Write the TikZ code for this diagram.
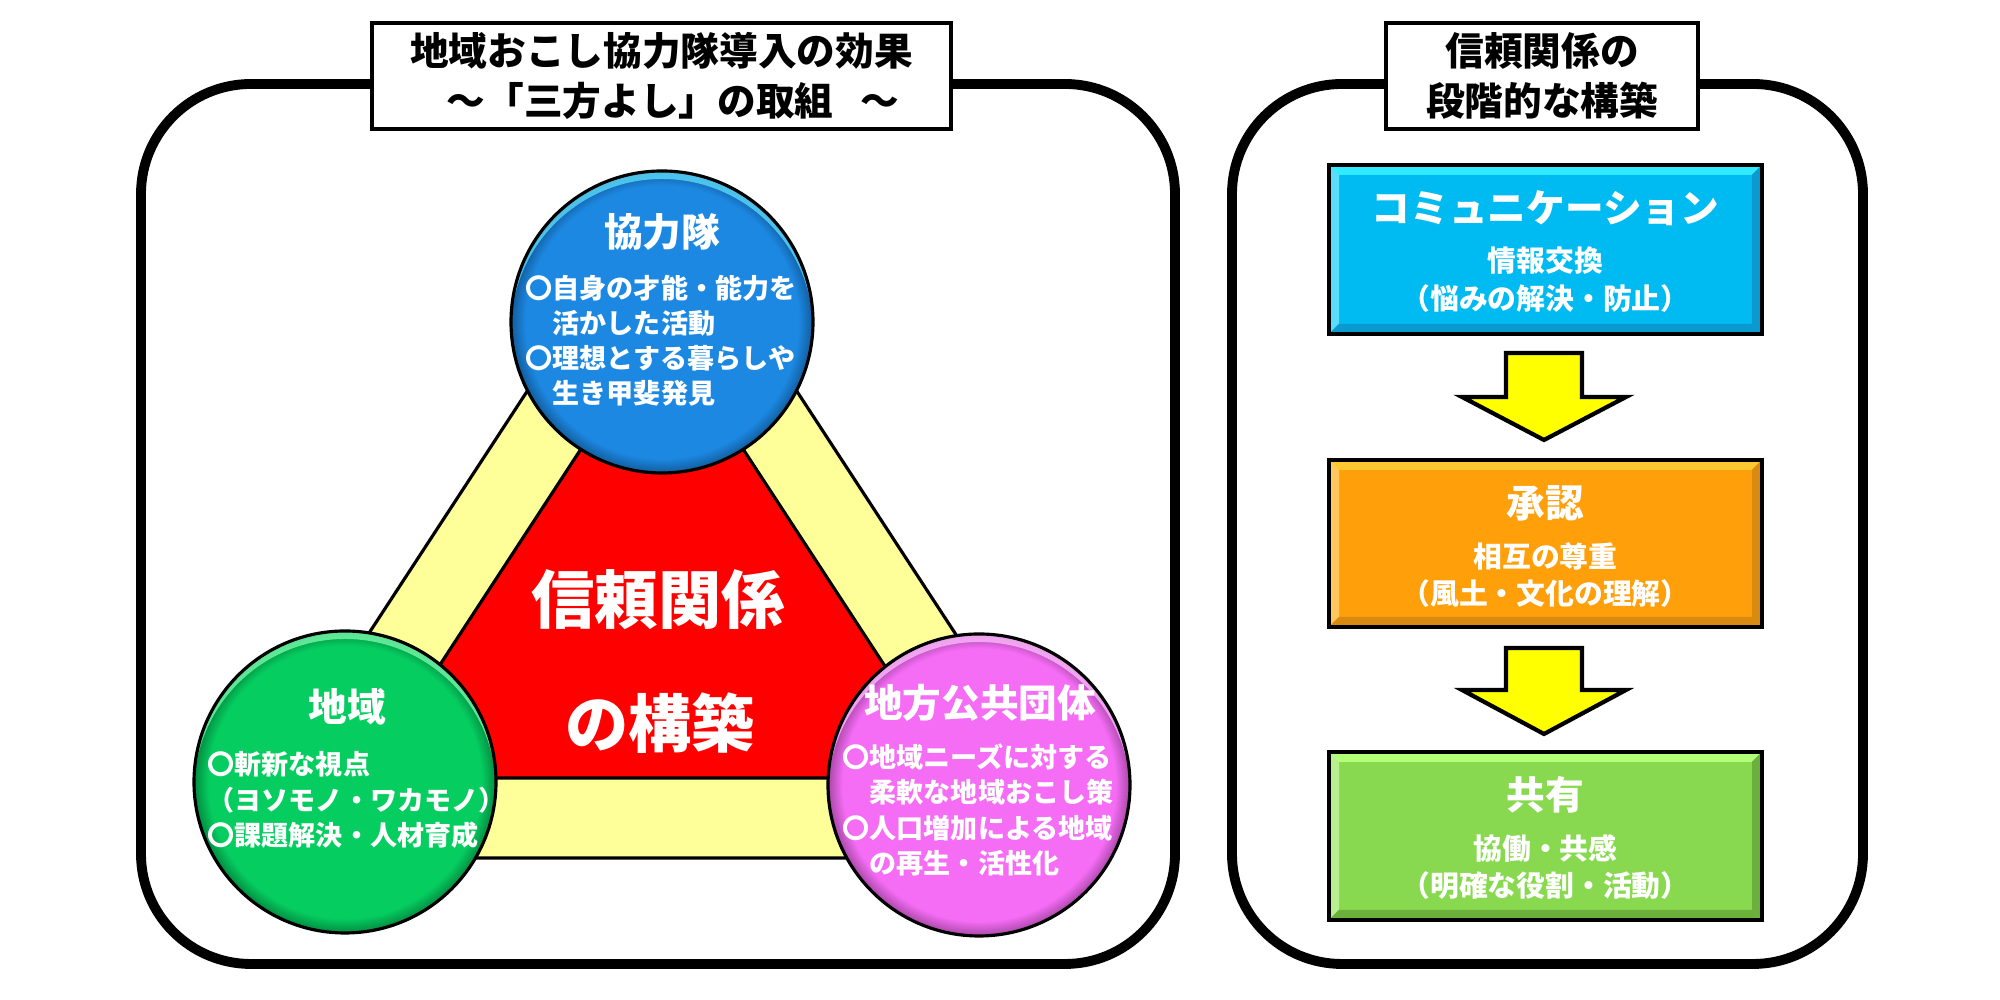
\documentclass[tikz,border=0pt]{standalone}
\usepackage{fontspec}
\setmainfont{Noto Sans CJK JP}
\definecolor{cblue}{HTML}{1C88E2}
\definecolor{cbluedk}{HTML}{125C9C}
\definecolor{cbluehi}{HTML}{5FE0FF}
\definecolor{cgreen}{HTML}{05CD60}
\definecolor{cgreendk}{HTML}{038A40}
\definecolor{cgreenhi}{HTML}{7DFFB0}
\definecolor{cpink}{HTML}{F56CF5}
\definecolor{cpinkdk}{HTML}{A848A8}
\definecolor{cpinkhi}{HTML}{FFC0FF}
\definecolor{cred}{HTML}{FF0000}
\definecolor{cyel}{HTML}{FFFF99}
\definecolor{carrow}{HTML}{FFFF00}
\definecolor{rblue}{HTML}{00BAF2}
\definecolor{rbluehi}{HTML}{30EAFF}
\definecolor{rbluelo}{HTML}{0A9AD0}
\definecolor{rorange}{HTML}{FF9F0A}
\definecolor{rorangehi}{HTML}{FFC830}
\definecolor{rorangelo}{HTML}{D98A10}
\definecolor{rgreen}{HTML}{88D94F}
\definecolor{rgreenhi}{HTML}{B2FF78}
\definecolor{rgreenlo}{HTML}{6CB03C}
\pgfdeclareradialshading{ballblue}{\pgfpoint{0bp}{0bp}}{color(0bp)=(cblue); color(22.6bp)=(cblue); color(25bp)=(cbluedk); color(50bp)=(cbluedk)}
\pgfdeclareradialshading{ballgreen}{\pgfpoint{0bp}{0bp}}{color(0bp)=(cgreen); color(22.6bp)=(cgreen); color(25bp)=(cgreendk); color(50bp)=(cgreendk)}
\pgfdeclareradialshading{ballpink}{\pgfpoint{0bp}{0bp}}{color(0bp)=(cpink); color(22.6bp)=(cpink); color(25bp)=(cpinkdk); color(50bp)=(cpinkdk)}
\newcommand\bevelbox[3]{%
  \fill[#2] (#1.north west) -- (#1.north east) -- ([shift={(-0.1,-0.1)}]#1.north east) -- ([shift={(0.1,-0.1)}]#1.north west) -- cycle;
  \fill[#2!50!white, opacity=0.6] (#1.north west) -- ([shift={(0.1,-0.1)}]#1.north west) -- ([shift={(0.1,0.1)}]#1.south west) -- (#1.south west) -- cycle;
  \fill[#3] (#1.south west) -- (#1.south east) -- ([shift={(-0.1,0.1)}]#1.south east) -- ([shift={(0.1,0.1)}]#1.south west) -- cycle;
  \fill[#3] (#1.north east) -- (#1.south east) -- ([shift={(-0.1,0.1)}]#1.south east) -- ([shift={(-0.1,-0.1)}]#1.north east) -- cycle;
  \draw[line width=1.1pt] (#1.north west) rectangle (#1.south east);
}
\newcommand\gloss[3]{%
  \begin{scope}
    \clip (#1.center) circle (#2);
    \fill[#3, opacity=0.75, even odd rule] (#1.center) circle (#2) ([yshift=-0.08cm]#1.center) circle (#2);
  \end{scope}
  \draw[line width=0.9pt] (#1.center) circle (#2);
}
\begin{document}
\begin{tikzpicture}[x=1cm,y=1cm,
  frame/.style={draw=black, line width=2.8pt, rounded corners=1.1cm},
  titlebox/.style={draw=black, line width=1.1pt, fill=white, minimum height=1.06cm, align=center, inner sep=0pt, font=\bfseries\fontsize{11}{14}\selectfont},
  circ/.style={circle, inner sep=0pt, outer sep=0pt, minimum size=3.02cm},
  ctitle/.style={text=white, inner sep=0pt, font=\bfseries\fontsize{11}{13}\selectfont},
  cbody/.style={text=white, align=left, anchor=west, inner sep=0pt, font=\bfseries\fontsize{7.7}{10}\selectfont},
  bigtext/.style={text=white, inner sep=0pt, font=\bfseries\fontsize{18}{22}\selectfont},
  rbox/.style={minimum width=4.33cm, inner sep=0pt, outer sep=0pt},
  rtitle/.style={text=white, inner sep=0pt, font=\bfseries\fontsize{11}{13}\selectfont},
  rbody/.style={text=white, inner sep=0pt, align=center, font=\bfseries\fontsize{8.2}{10.8}\selectfont},
  blockarrow/.style={fill=carrow, draw=black, line width=1.2pt, line join=miter}
]
\useasboundingbox (0,0) rectangle (20,10);
\fill[white] (0,0) rectangle (20,10);

% frames
\draw[frame] (1.41,0.36) rectangle (11.75,9.16);
\draw[frame] (12.32,0.36) rectangle (18.63,9.16);
\node[titlebox, minimum width=5.79cm] (t1) at (6.615,9.24) {地域おこし協力隊導入の効果\\\hspace*{0.6em}～「三方よし」の取組\kern0.7em～};
\node[titlebox, minimum width=3.12cm] (t2) at (15.42,9.24) {信頼関係の\\段階的な構築};

% triangles
\filldraw[fill=cyel, draw=black, line width=0.9pt] (6.62,8.15) -- (2.22,1.42) -- (11.02,1.42) -- cycle;
\filldraw[fill=cred, draw=black, line width=0.9pt] (6.62,6.75) -- (3.66,2.22) -- (9.58,2.22) -- cycle;
\node[bigtext] (c1) at (6.58,4.00) {信頼関係};
\node[bigtext] (c2) at (6.60,2.77) {の構築};

% circles
\node[circ, shading=ballblue] (kyo) at (6.62,6.78) {};
\gloss{kyo}{1.51}{cbluehi}
\node[circ, shading=ballgreen] (chi) at (3.45,2.18) {};
\gloss{chi}{1.51}{cgreenhi}
\node[circ, shading=ballpink] (gov) at (9.79,2.15) {};
\gloss{gov}{1.51}{cpinkhi}

\node[ctitle] (kyot) at (6.62,7.68) {協力隊};
\node[cbody] (kyob) at (5.25,6.595) {〇自身の才能・能力を\\\hspace*{1em}活かした活動\\〇理想とする暮らしや\\\hspace*{1em}生き甲斐発見};
\node[ctitle] (chit) at (3.47,2.93) {地域};
\node[cbody] (chib) at (2.07,2.00) {〇斬新な視点\\（ヨソモノ・ワカモノ）\\〇課題解決・人材育成};
\node[ctitle] (govt) at (9.80,2.97) {地方公共団体};
\node[cbody] (govb) at (8.42,1.90) {〇地域ニーズに対する\\\hspace*{1em}柔軟な地域おこし策\\〇人口増加による地域\\\hspace*{1em}の再生・活性化};

% right side boxes
\node[rbox, fill=rblue, minimum height=1.69cm] (r1) at (15.455,7.505) {};
\bevelbox{r1}{rbluehi}{rbluelo}
\node[rbox, fill=rorange, minimum height=1.67cm] (r2) at (15.455,4.565) {};
\bevelbox{r2}{rorangehi}{rorangelo}
\node[rbox, fill=rgreen, minimum height=1.68cm] (r3) at (15.455,1.64) {};
\bevelbox{r3}{rgreenhi}{rgreenlo}

\node[rtitle] (r1t) at ([yshift=-0.43cm]r1.north) {コミュニケーション};
\node[rbody] (r1a) at ([yshift=-0.96cm]r1.north) {情報交換};
\node[rbody] (r1b) at ([yshift=-1.34cm]r1.north) {（悩みの解決・防止）};
\node[rtitle] (r2t) at ([yshift=-0.43cm]r2.north) {承認};
\node[rbody] (r2a) at ([yshift=-0.96cm]r2.north) {相互の尊重};
\node[rbody] (r2b) at ([yshift=-1.34cm]r2.north) {（風土・文化の理解）};
\node[rtitle] (r3t) at ([yshift=-0.43cm]r3.north) {共有};
\node[rbody] (r3a) at ([yshift=-0.96cm]r3.north) {協働・共感};
\node[rbody] (r3b) at ([yshift=-1.34cm]r3.north) {（明確な役割・活動）};

% block arrows
\draw[blockarrow] (15.06,6.47) -- (15.82,6.47) -- (15.82,6.03) -- (16.26,6.03) -- (15.44,5.60) -- (14.62,6.03) -- (15.06,6.03) -- cycle;
\draw[blockarrow] (15.06,3.52) -- (15.82,3.52) -- (15.82,3.10) -- (16.26,3.10) -- (15.44,2.66) -- (14.62,3.10) -- (15.06,3.10) -- cycle;
\end{tikzpicture}
\end{document}
